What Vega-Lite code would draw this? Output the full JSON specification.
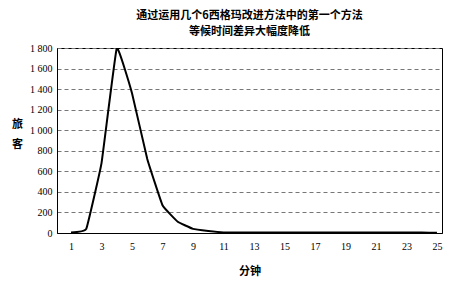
{
  "$schema": "https://vega.github.io/schema/vega-lite/v6.json",
  "width": 385,
  "height": 185,
  "autosize": {"type": "none"},
  "padding": {"left": 57, "top": 48, "right": 9, "bottom": 50},
  "background": "white",
  "title": {
    "text": ["通过运用几个6西格玛改进方法中的第一个方法", "等候时间差异大幅度降低"],
    "font": "Noto Sans CJK SC",
    "fontSize": 11,
    "fontWeight": "bold",
    "lineHeight": 16,
    "anchor": "middle",
    "offset": 6,
    "color": "#000"
  },
  "config": {
    "view": {"stroke": "#000", "strokeWidth": 1},
    "axis": {
      "labelFont": "Liberation Serif",
      "labelFontSize": 10,
      "labelColor": "#000",
      "titleFont": "Noto Sans CJK SC",
      "titleFontSize": 11,
      "titleFontWeight": "bold",
      "titleColor": "#000"
    }
  },
  "data": {
    "values": [
      {"minute": 1, "passengers": 5},
      {"minute": 2, "passengers": 40},
      {"minute": 3, "passengers": 680},
      {"minute": 4, "passengers": 1800},
      {"minute": 5, "passengers": 1360},
      {"minute": 6, "passengers": 720},
      {"minute": 7, "passengers": 270},
      {"minute": 8, "passengers": 110},
      {"minute": 9, "passengers": 40},
      {"minute": 10, "passengers": 20},
      {"minute": 11, "passengers": 6},
      {"minute": 12, "passengers": 5},
      {"minute": 13, "passengers": 5},
      {"minute": 14, "passengers": 4},
      {"minute": 15, "passengers": 5},
      {"minute": 16, "passengers": 4},
      {"minute": 17, "passengers": 5},
      {"minute": 18, "passengers": 5},
      {"minute": 19, "passengers": 4},
      {"minute": 20, "passengers": 4},
      {"minute": 21, "passengers": 4},
      {"minute": 22, "passengers": 4},
      {"minute": 23, "passengers": 4},
      {"minute": 24, "passengers": 4},
      {"minute": 25, "passengers": 3}
    ]
  },
  "mark": {"type": "line", "color": "#000", "strokeWidth": 2, "interpolate": "cardinal", "tension": 0.75, "strokeJoin": "miter", "clip": true},
  "encoding": {
    "x": {
      "field": "minute",
      "type": "quantitative",
      "scale": {"domain": [0.08, 25.33], "nice": false, "zero": false},
      "axis": {
        "values": [1, 3, 5, 7, 9, 11, 13, 15, 17, 19, 21, 23, 25],
        "title": "分钟",
        "grid": false,
        "ticks": false,
        "domain": true,
        "domainColor": "#000",
        "labelPadding": 8,
        "titlePadding": 14
      }
    },
    "y": {
      "field": "passengers",
      "type": "quantitative",
      "scale": {"domain": [0, 1800], "nice": false},
      "axis": {
        "values": [0, 200, 400, 600, 800, 1000, 1200, 1400, 1600, 1800],
        "labelExpr": "replace(format(datum.value, ','), ',', ' ')",
        "title": ["旅", "客"],
        "titleAngle": 0,
        "titleAlign": "center",
        "titleBaseline": "middle",
        "titleX": -40,
        "titleY": 76,
        "titleLineHeight": 20,
        "grid": true,
        "gridColor": "#777",
        "gridDash": [4, 3],
        "gridWidth": 1,
        "ticks": false,
        "domain": true,
        "domainColor": "#000",
        "labelPadding": 5
      }
    }
  }
}
